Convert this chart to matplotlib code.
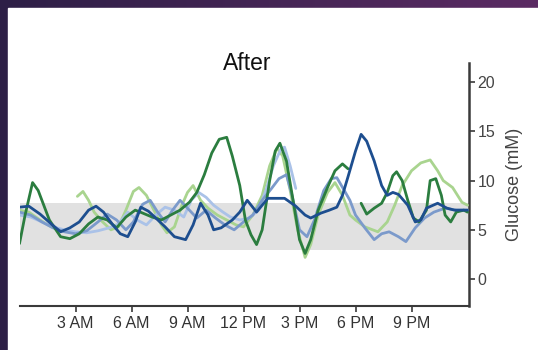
import matplotlib
matplotlib.use("Agg")
import matplotlib.pyplot as plt
import matplotlib.patches as mpatches
from matplotlib.colors import LinearSegmentedColormap
import numpy as np

plt.rcParams['font.family'] = ['Liberation Sans', 'DejaVu Sans']

# Glucose traces (hours since midnight, mM); None marks a gap in the trace
dark_green_h = [0, 0.3, 0.7, 1.0, 1.6, 2.2, 2.7, 3.2, 3.7, 4.2, 4.7, 5.2, 5.7, 6.2, 6.6, 7.1, 7.6, 8.1,
                8.6, 9.1, 9.5, 9.9, 10.3, 10.7, 11.1, 11.4, 11.8, 12.1, 12.4, 12.7, 13.0, 13.4, 13.7,
                13.95, 14.3, 14.7, 15.0, 15.3, 15.6, 16.0, 16.5, 16.9, 17.3, 17.6, 17.9,
                18.3, 18.6, 19.0, 19.4, 19.7, 20.0, 20.2, 20.5, 20.8, 21.1, 21.4, 21.8, 22.0, 22.3,
                22.6, 22.8, 23.1, 23.4, 23.8, 24.0]
dark_green_v = [3.6, 6.5, 9.8, 9.0, 6.0, 4.3, 4.1, 4.6, 5.6, 6.3, 6.0, 5.2, 6.3, 7.0, 6.7, 6.3, 6.0, 6.5,
                7.0, 7.8, 8.8, 10.6, 12.8, 14.2, 14.4, 12.5, 9.5, 6.0, 4.5, 3.5, 5.0, 10.0, 13.0,
                13.8, 12.0, 7.5, 4.0, 2.6, 4.0, 7.0, 9.3, 11.0, 11.7, 11.2, None,
                7.7, 6.6, 7.2, 7.7, 8.8, 10.5, 10.9, 10.0, 8.0, 6.2, 5.8, 7.0, 10.0, 10.2,
                8.5, 6.5, 5.8, 6.8, 7.0, 6.8]

navy_h = [0, 0.5, 1.1, 1.7, 2.2, 2.7, 3.2, 3.7, 4.1, 4.5, 5.0, 5.4, 5.8, 6.2, 6.5, 6.9, 7.3, 7.8, 8.3,
          8.9, 9.3, 9.7, 10.1, 10.4, 10.8, 11.4, 11.8, 12.2, 12.7, 13.3, 14.2, 14.8, 15.3, 15.6,
          16.15, 16.6, 17.0, 17.3, 17.6, 18.0, 18.3, 18.6, 19.0, 19.4, 19.7, 20.0, 20.3, 20.8,
          21.2, 21.5, 21.8, 22.4, 22.9, 23.3, 24.0]
navy_v = [7.3, 7.4, 6.6, 5.6, 4.8, 5.2, 5.8, 7.0, 7.4, 6.8, 5.5, 4.6, 4.3, 5.8, 7.3, 6.9, 6.2, 5.3, 4.3,
          4.0, 5.5, 7.7, 6.5, 5.0, 5.2, 6.0, 6.8, 8.0, 6.8, 8.2, 8.2, 7.4, 6.5, 6.2,
          6.7, 7.0, 7.3, 8.5, 10.4, 13.0, 14.7, 14.0, 12.0, 9.5, 8.5, 8.8, 8.6, 7.5,
          5.8, 6.0, 7.2, 7.7, 7.2, 7.0, 7.0]

light_green_h = [0, 0.5, 1.1, 1.7, 2.2, 2.7, None,
                 3.1, 3.4, 3.7, 4.0, 4.4, 4.9, 5.3, 5.7, 6.1, 6.4, 6.8, 7.2, 7.6, 7.9, 8.3, 8.7,
                 9.0, 9.3, 9.7, 10.1, 10.6, 11.1, 11.6, 12.0, 12.5, 13.0, 13.4, 13.8, 14.1, 14.5,
                 14.9, 15.3, 15.6, 16.0, 16.5, 16.9, 17.3, 17.7, 18.0, 18.5, 19.2, 19.7, 20.1,
                 20.5, 21.0, 21.5, 22.0, 22.4, 22.7, 23.2, 23.7, 24.0]
light_green_v = [7.0, 6.8, 6.0, 5.3, 5.0, 4.8, None,
                 8.4, 8.9, 8.0, 6.8, 5.9, 5.0, 5.3, 7.0, 8.9, 9.3, 8.5, 7.0, 5.5, 4.7, 5.3, 7.5,
                 8.8, 9.5, 8.0, 7.2, 6.5, 6.0, 5.5, 5.3, 6.5, 8.5, 11.5, 13.3, 12.5, 9.0,
                 5.0, 2.2, 3.5, 6.5, 8.8, 9.8, 8.5, 6.5, 6.0, 5.3, 4.8, 5.8, 7.5,
                 9.5, 11.0, 11.8, 12.1, 11.0, 10.0, 9.3, 7.8, 7.5]

mid_blue_h = [0, 0.6, 1.2, 1.8, 2.4, 3.0, 3.6, 4.2, 4.7, 5.2, 5.7, 6.1, 6.6, 7.0, 7.4, 7.8, 8.2, 8.6,
              9.0, 9.5, 10.0, 10.5, 11.0, 11.5, 12.0, 12.5, 13.0, 13.5, 13.9, 14.3, 14.6, 15.0,
              15.4, 15.8, 16.3, 16.7, 17.0, 17.4, 17.7, 18.0, 18.5, 19.0, 19.4, 19.8, 20.3, 20.7,
              21.2, 21.7, 22.2, 22.8, 23.4, 24.0]
mid_blue_v = [6.8, 6.5, 5.8, 5.2, 4.8, 4.6, 4.9, 5.8, 6.6, 6.0, 5.0, 5.8, 7.6, 8.0, 6.8, 5.8, 7.0, 8.0,
              7.2, 6.2, 7.0, 6.2, 5.5, 5.0, 5.8, 6.5, 8.0, 9.2, 10.2, 10.6, 8.5, 5.0,
              4.3, 6.0, 9.0, 10.2, 10.3, 9.0, 8.0, 6.5, 5.2, 4.0, 4.6, 4.8, 4.3, 3.8,
              5.2, 6.2, 6.8, 7.2, 7.0, 7.0]

pale_blue_h = [0, 0.6, 1.2, 1.8, 2.4, 3.0, 3.6, 4.2, 4.8, 5.3, 5.8, 6.3, 6.8, 7.3, 7.8, 8.3, 8.8, 9.2,
               9.6, 10.0, 10.4, 10.9, 11.3, 11.8, 12.3, 12.8, 13.2, 13.6, 14.0, 14.2, 14.5, 14.8]
pale_blue_v = [6.5, 6.3, 5.8, 5.3, 5.0, 4.8, 4.7, 4.9, 5.2, 5.6, 6.8, 6.0, 5.5, 6.5, 7.3, 7.0, 6.3, 8.0,
               8.8, 8.3, 7.5, 6.8, 6.3, 6.0, 6.2, 7.0, 9.0, 11.5, 13.2, 13.4, 11.5, 9.2]

target_low, target_high = 3.0, 7.7
hour_ticks = [3, 6, 9, 12, 15, 18, 21]
hour_labels = ['3 AM', '6 AM', '9 AM', '12 PM', '3 PM', '6 PM', '9 PM']
glucose_ticks = [0, 5, 10, 15, 20]


def to_array(vals):
    return np.array([np.nan if v is None else v for v in vals], dtype=float)


W, H = 538, 350
fig = plt.figure(figsize=(W / 100, H / 100), dpi=100)

# purple slide background with white panel
bg = fig.add_axes([0, 0, 1, 1])
bg.set_axis_off()
purple = LinearSegmentedColormap.from_list('purple', ['#2d1f46', '#5b2b63'])
bg.imshow(np.linspace(0, 1, 256).reshape(1, -1), cmap=purple, aspect='auto',
          extent=[0, 1, 0, 1], zorder=0)
bg.add_patch(mpatches.Rectangle((8 / W, 0), 1, 1 - 8 / H, color='white', zorder=1))
bg.set_xlim(0, 1)
bg.set_ylim(0, 1)

ax = fig.add_axes([19.5 / W, 44 / H, (469 - 19.5) / W, (306 - 63) / H])
ax.patch.set_alpha(0)

ax.axhspan(target_low, target_high, color='#e1e1e1', lw=0, zorder=1)

series = [
    (light_green_h, light_green_v, '#a9d48f'),
    (pale_blue_h, pale_blue_v, '#aac2e8'),
    (mid_blue_h, mid_blue_v, '#7b9acb'),
    (dark_green_h, dark_green_v, '#2b7d3f'),
    (navy_h, navy_v, '#1d4e8f'),
]
for hh, vv, col in series:
    ax.plot(to_array(hh), to_array(vv), color=col, lw=2.0, solid_joinstyle='round',
            solid_capstyle='round', zorder=3)

ax.set_xlim(0, 24.08)
ax.set_ylim(-2.74, 21.95)

for side in ['top', 'left']:
    ax.spines[side].set_visible(False)
ax.spines['bottom'].set_color('#3a3a3a')
ax.spines['bottom'].set_linewidth(1.5)
ax.spines['right'].set_color('#3a3a3a')
ax.spines['right'].set_linewidth(1.8)

ax.set_xticks(hour_ticks)
ax.set_xticklabels(hour_labels)
ax.yaxis.tick_right()
ax.yaxis.set_label_position('right')
ax.set_yticks(glucose_ticks)
ax.tick_params(axis='x', length=4, width=1.2, color='#3a3a3a', labelsize=11.5,
               labelcolor='#333333', pad=3)
ax.tick_params(axis='y', length=4, width=1.2, color='#3a3a3a', labelsize=11.5,
               labelcolor='#444444', pad=2)
ax.set_ylabel('Glucose (mM)', fontsize=13, color='#444444', labelpad=8)

fig.text(247 / W, 1 - 64 / H, 'After', ha='center', va='center', fontsize=16.5, color='#111111')

fig.savefig('out.png', dpi=100)
